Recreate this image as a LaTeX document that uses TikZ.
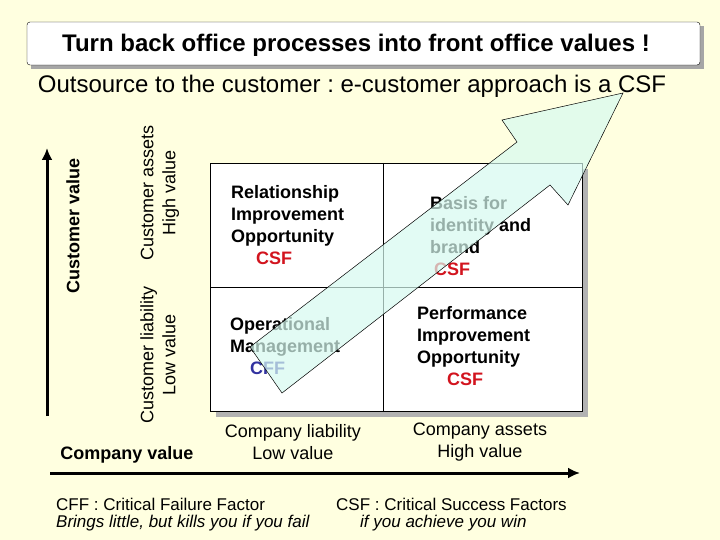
\documentclass[tikz,border=0pt]{standalone}
\usepackage{fontspec}
\setmainfont{Liberation Sans}
\usetikzlibrary{shadows,arrows.meta}
\definecolor{bg}{RGB}{255,255,224}
\definecolor{csf}{RGB}{210,20,30}
\definecolor{cff}{RGB}{50,50,160}
\definecolor{arrowfill}{RGB}{215,250,240}
\tikzset{
 cell/.style={anchor=north west,align=left,font=\fontsize{18}{22}\selectfont\bfseries,inner sep=0pt},
 lab/.style={align=center,font=\fontsize{18}{22}\selectfont,inner sep=0pt},
 blab/.style={font=\fontsize{18}{22}\selectfont\bfseries,inner sep=0pt},
 foot/.style={anchor=west,font=\fontsize{17}{20}\selectfont,inner sep=0pt},
 axis/.style={line width=3pt,-{Latex[length=12pt,width=11pt]}}
}
\begin{document}
\frenchspacing
\begin{tikzpicture}[x=1pt,y=-1pt]
\fill[bg] (0,0) rectangle (720,540);
% title
\fill[black!35] (31,26) rectangle (704,69);
\draw[fill=white,rounded corners=3pt] (27,22) rectangle (700,65);
\node[font=\fontsize{24}{28}\selectfont\bfseries] (title) at (356,45) {Turn back office processes into front office values !};
\node[font=\fontsize{24}{28}\selectfont] (sub) at (352,86) {Outsource to the customer : e-customer approach is a CSF};
% matrix
\fill[black!30] (216,169) rectangle (588,417);
\draw[fill=white] (210,163) rectangle (582,411);
\draw (383,163) -- (383,411) (210,287) -- (582,287);
\node[cell] (c1) at (231,185) {Relationship\\Improvement\\Opportunity\\\hspace*{25pt}\textcolor{csf}{CSF}};
\node[cell] (c2) at (430,196) {Basis for\\identity and\\brand\\\hspace*{4pt}\textcolor{csf}{CSF}};
\node[cell] (c3) at (230,317) {Operational\\Management\\\hspace*{20pt}\textcolor{cff}{CFF}};
\node[cell] (c4) at (417,306) {Performance\\Improvement\\Opportunity\\\hspace*{30pt}\textcolor{csf}{CSF}};
% big arrow
\draw[fill=arrowfill,fill opacity=0.7,line width=0.5pt]
 (250,347) -- (517,142) -- (502,120) -- (623,93) -- (568,205) -- (550,185) -- (282,393) -- cycle;
% axes
\coordinate (vb) at (47,416); \coordinate (vt) at (47,148);
\draw[axis] (vb) -- (vt);
\coordinate (hl) at (50,473); \coordinate (hr) at (580,473);
\draw[axis] (hl) -- (hr);
\node[blab,rotate=90] (cv) at (73,226) {Customer value};
\node[lab,rotate=90] (ca) at (160,193) {Customer assets\\High value};
\node[lab,rotate=90] (cl) at (158,355) {Customer liability\\Low value};
\node[blab] (cov) at (127,455) {Company value};
\node[lab] (cli) at (293,442) {Company liability\\Low value};
\node[lab] (cas) at (480,442) {Company assets\\High value};
\node[foot] (f1) at (56,504) {CFF : Critical Failure Factor};
\node[foot] (f2) at (56,523) {\itshape Brings little, but kills you if you fail};
\node[foot] (f3) at (336,504) {CSF : Critical Success Factors};
\node[foot] (f4) at (360,523) {\itshape if you achieve you win};
\end{tikzpicture}
\end{document}
